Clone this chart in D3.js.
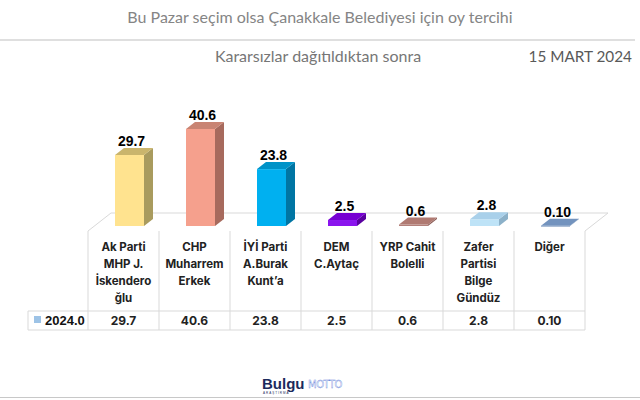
<!DOCTYPE html>
<html><head><meta charset="utf-8">
<script src="https://cdn.jsdelivr.net/npm/d3@7/dist/d3.min.js"></script>
<style>html,body{margin:0;padding:0;background:#fff;}svg{display:block;}</style>
</head><body>
<svg id="chart" width="640" height="400"></svg>
<script>
const categories = ["Ak Parti MHP J. İskenderoğlu","CHP Muharrem Erkek","İYİ Parti A.Burak Kunt’a","DEM C.Aytaç","YRP Cahit Bolelli","Zafer Partisi Bilge Gündüz","Diğer"];
const categoryLines = [["Ak Parti","MHP J.","İskendero","ğlu"],["CHP","Muharrem","Erkek"],["İYİ Parti","A.Burak","Kunt’a"],["DEM","C.Aytaç"],["YRP Cahit","Bolelli"],["Zafer","Partisi","Bilge","Gündüz"],["Diğer"]];
const values = [29.7, 40.6, 23.8, 2.5, 0.6, 2.8, 0.10];
const valueLabels = ["29.7","40.6","23.8","2.5","0.6","2.8","0.10"];
const seriesName = "2024.0";
const frontColors = ["#FFE38F","#F5A08D","#00B0F0","#8A14EE","#B3807A","#BEE3F7","#6C8CB7"];
const topColors   = ["#CAB56C","#C98473","#0093C8","#7600D2","#B07A72","#A9D0EA","#7393BE"];
const sideColors  = ["#A99B5E","#A76A5D","#0075A3","#5A00A0","#8D5F59","#8CB1C9","#56769B"];

const svg = d3.select("#chart");

// Titles
svg.append("text").attr("x",320).attr("y",23).attr("text-anchor","middle")
  .attr("font-family","Lato, 'Open Sans', sans-serif").attr("font-size",16).attr("fill","#858585")
  .text("Bu Pazar seçim olsa Çanakkale Belediyesi için oy tercihi");
svg.append("line").attr("x1",0).attr("x2",635).attr("y1",40).attr("y2",40).attr("stroke","#bfbfbf").attr("stroke-width",1);
svg.append("text").attr("x",318).attr("y",62).attr("text-anchor","middle")
  .attr("font-family","Lato, 'Open Sans', sans-serif").attr("font-size",16).attr("fill","#767676")
  .text("Kararsızlar dağıtıldıktan sonra");
svg.append("text").attr("x",632).attr("y",62).attr("text-anchor","end")
  .attr("font-family","Lato, 'Open Sans', sans-serif").attr("font-size",15.3).attr("fill","#595959")
  .text("15 MART 2024");

// Scales
const tableLeft = 88, tableRight = 585;
const x = d3.scaleBand().domain(categories).range([tableLeft, tableRight]).padding(0);
const y = d3.scaleLinear().domain([0, 50]).range([226, 226 - 50*2.39]);
const barOff = 27, barW = 29, ddx = 9, ddy = -7;

// Floor
const floorTop = 231, fdx = 23, fdy = -18;
svg.append("path")
  .attr("d", `M${tableLeft},${floorTop} L${tableLeft+fdx},${floorTop+fdy} L${tableRight+fdx},${floorTop+fdy} L${tableRight},${floorTop}`)
  .attr("fill","#fff").attr("stroke","#d9d9d9").attr("stroke-width",1);

// Bars
const g = svg.append("g");
categories.forEach((c,i)=>{
  const x0 = x(c) + barOff, x1 = x0 + barW;
  const yt = y(values[i]), yb = y(0);
  g.append("path").attr("d",`M${x1},${yt} L${x1+ddx},${yt+ddy} L${x1+ddx},${yb+ddy} L${x1},${yb} Z`).attr("fill",sideColors[i]);
  g.append("rect").attr("x",x0).attr("y",yt).attr("width",barW).attr("height",Math.max(yb-yt,0.8)).attr("fill",frontColors[i]);
  g.append("path").attr("d",`M${x0},${yt} L${x1},${yt} L${x1+ddx},${yt+ddy} L${x0+ddx},${yt+ddy} Z`).attr("fill",topColors[i]);
  g.append("text").attr("x",x0+barW/2+2).attr("y",yt+ddy-2).attr("text-anchor","middle")
    .attr("font-family","'Liberation Sans', Arial, sans-serif").attr("font-weight","bold").attr("font-size",14).attr("fill","#000")
    .text(valueLabels[i]);
});

// Table
const rowTop = floorTop, rowMid = 311, rowBot = 330, legendLeft = 28;
const grid = "#d9d9d9";
const tg = svg.append("g").attr("stroke",grid).attr("stroke-width",1);
tg.append("line").attr("x1",legendLeft).attr("x2",tableRight).attr("y1",rowMid).attr("y2",rowMid);
tg.append("line").attr("x1",legendLeft).attr("x2",tableRight).attr("y1",rowBot).attr("y2",rowBot);
tg.append("line").attr("x1",legendLeft).attr("x2",legendLeft).attr("y1",rowMid).attr("y2",rowBot);
categories.forEach(c=>{
  tg.append("line").attr("x1",x(c)).attr("x2",x(c)).attr("y1",rowTop).attr("y2",rowBot);
});
tg.append("line").attr("x1",tableRight).attr("x2",tableRight).attr("y1",rowTop).attr("y2",rowBot);

categories.forEach((c,i)=>{
  const cx = x(c) + x.bandwidth()/2;
  const t = svg.append("text").attr("text-anchor","middle")
    .attr("font-family","Inter, 'Open Sans', sans-serif").attr("font-weight","bold").attr("font-size",11.5).attr("fill","#222");
  categoryLines[i].forEach((ln,k)=>{
    t.append("tspan").attr("x",cx).attr("y",251 + k*17).text(ln);
  });
  svg.append("text").attr("x",cx).attr("y",325).attr("text-anchor","middle")
    .attr("font-family","Inter, 'Open Sans', sans-serif").attr("font-weight","bold").attr("font-size",12).attr("fill","#222")
    .text(valueLabels[i]);
});
svg.append("rect").attr("x",34).attr("y",316).attr("width",7).attr("height",7).attr("fill","#9DC3E6");
svg.append("text").attr("x",45).attr("y",325)
  .attr("font-family","'Liberation Sans', Arial, sans-serif").attr("font-weight","bold").attr("font-size",13).attr("fill","#111")
  .text(seriesName);

// Logos
svg.append("text").attr("x",262).attr("y",389).attr("font-family","'Liberation Sans', Arial, sans-serif")
  .attr("font-weight","bold").attr("font-size",15).attr("fill","#1c2a5c").text("Bulgu");
svg.append("text").attr("x",263).attr("y",394).attr("font-family","'Liberation Sans', Arial, sans-serif")
  .attr("font-size",3).attr("fill","#1c2a5c").attr("letter-spacing",1).text("ARAŞTIRMA");
svg.append("text").attr("x",308).attr("y",388).attr("font-family","'DejaVu Sans', sans-serif")
  .attr("font-size",10).attr("fill","none").attr("stroke","#5f7fd8").attr("stroke-width",0.35).attr("letter-spacing",-0.5).text("MOTTO");
svg.append("line").attr("x1",0).attr("x2",640).attr("y1",397.5).attr("y2",397.5).attr("stroke","#c8c8c8");
</script>
</body></html>
